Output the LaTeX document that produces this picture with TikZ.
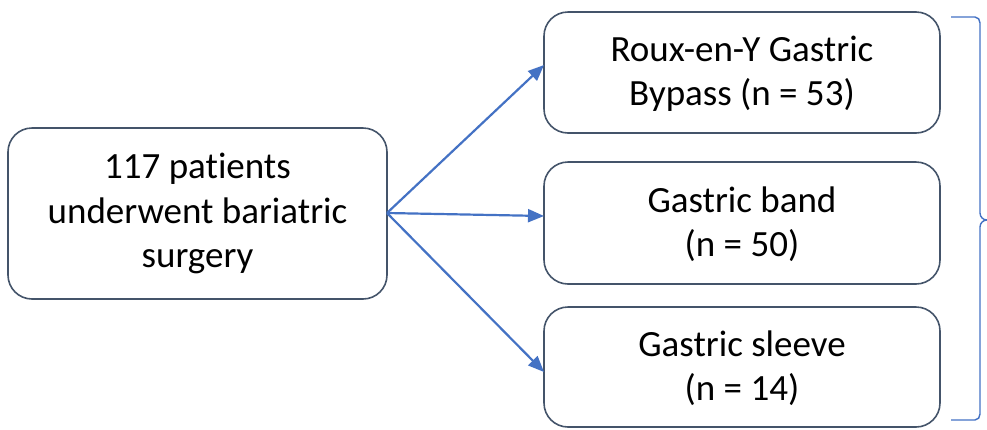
\documentclass[tikz,border=0pt]{standalone}
\usepackage{fontspec}
\setmainfont{Carlito}[Ligatures=NoCommon]
\usetikzlibrary{arrows.meta}
\definecolor{boxc}{HTML}{44546A}
\definecolor{arrc}{HTML}{4472C4}
\begin{document}
\begin{tikzpicture}[x=1pt,y=-1pt,
  box/.style={draw=boxc,line width=1.6pt,rounded corners=24pt},
  lbl/.style={align=center,font=\fontsize{37}{44.5}\selectfont,text=black},
  arr/.style={draw=arrc,line width=2.2pt,-{Triangle[length=16pt,width=13pt]}}]
\useasboundingbox (0,0) rectangle (987,429);
\draw[box] (8,128) rectangle (387,299);
\draw[box] (544,12) rectangle (940,133);
\draw[box] (544,162) rectangle (940,284);
\draw[box] (544,307) rectangle (940,427);
\node[lbl] (src) at (197.5,213.5) {117 patients\\underwent bariatric\\surgery};
\node[lbl] (rygb) at (742,73.5) {Roux-en-Y Gastric\\Bypass (n = 53)};
\node[lbl] (band) at (742,224) {Gastric band\\(n = 50)};
\node[lbl] (sleeve) at (742,368) {Gastric sleeve\\(n = 14)};
\coordinate (s) at (387,213);
\coordinate (t1) at (544,65);
\coordinate (t2) at (544,216);
\coordinate (t3) at (544,372);
\draw[arr] (s) -- (t1);
\draw[arr] (s) -- (t2);
\draw[arr] (s) -- (t3);
\draw[arrc,line width=1.4pt] (951,17) -- (975,17) to[out=0,in=90] (980,23) -- (980,213) to[out=-90,in=180] (987,220) to[out=180,in=90] (980,227) -- (980,414) to[out=-90,in=0] (975,420) -- (951,420);
\end{tikzpicture}
\end{document}
